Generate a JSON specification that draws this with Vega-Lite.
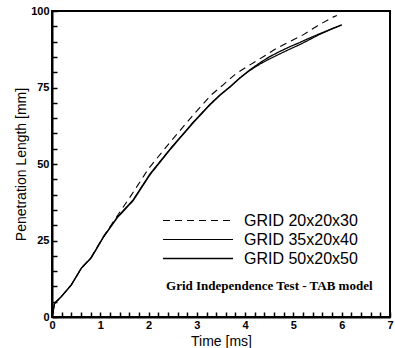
{
  "$schema": "https://vega.github.io/schema/vega-lite/v6.json",
  "autosize": "none",
  "width": 338,
  "height": 306,
  "padding": {"left": 52, "top": 11, "right": 5, "bottom": 31},
  "background": "white",
  "config": {
    "view": {"stroke": "black", "strokeWidth": 2},
    "font": "Liberation Sans"
  },
  "datasets": {
    "curves": [
      {"series": "GRID 20x20x30", "t": 0, "len": 0},
      {"series": "GRID 20x20x30", "t": 0.055, "len": 4.5},
      {"series": "GRID 20x20x30", "t": 0.19, "len": 6.6},
      {"series": "GRID 20x20x30", "t": 0.4, "len": 10.5},
      {"series": "GRID 20x20x30", "t": 0.61, "len": 16},
      {"series": "GRID 20x20x30", "t": 0.81, "len": 19.5},
      {"series": "GRID 20x20x30", "t": 1.06, "len": 26.2},
      {"series": "GRID 20x20x30", "t": 1.35, "len": 33},
      {"series": "GRID 20x20x30", "t": 1.65, "len": 40},
      {"series": "GRID 20x20x30", "t": 2.0, "len": 48.5},
      {"series": "GRID 20x20x30", "t": 2.44, "len": 57},
      {"series": "GRID 20x20x30", "t": 2.95, "len": 66.5},
      {"series": "GRID 20x20x30", "t": 3.3, "len": 72.6},
      {"series": "GRID 20x20x30", "t": 3.54, "len": 75.8},
      {"series": "GRID 20x20x30", "t": 3.8, "len": 79.4},
      {"series": "GRID 20x20x30", "t": 4.1, "len": 82.4},
      {"series": "GRID 20x20x30", "t": 4.4, "len": 85.3},
      {"series": "GRID 20x20x30", "t": 4.66, "len": 87.9},
      {"series": "GRID 20x20x30", "t": 4.95, "len": 90.2},
      {"series": "GRID 20x20x30", "t": 5.2, "len": 92.2},
      {"series": "GRID 20x20x30", "t": 5.5, "len": 95.2},
      {"series": "GRID 20x20x30", "t": 5.82, "len": 98},
      {"series": "GRID 20x20x30", "t": 5.9, "len": 98.5},
      {"series": "GRID 35x20x40", "t": 0, "len": 0},
      {"series": "GRID 35x20x40", "t": 0.055, "len": 4.5},
      {"series": "GRID 35x20x40", "t": 0.19, "len": 6.6},
      {"series": "GRID 35x20x40", "t": 0.4, "len": 10.5},
      {"series": "GRID 35x20x40", "t": 0.61, "len": 16},
      {"series": "GRID 35x20x40", "t": 0.81, "len": 19.3},
      {"series": "GRID 35x20x40", "t": 1.06, "len": 26},
      {"series": "GRID 35x20x40", "t": 1.35, "len": 32.6},
      {"series": "GRID 35x20x40", "t": 1.68, "len": 38.3},
      {"series": "GRID 35x20x40", "t": 2.03, "len": 46.8},
      {"series": "GRID 35x20x40", "t": 2.44, "len": 54.8},
      {"series": "GRID 35x20x40", "t": 2.92, "len": 63.6},
      {"series": "GRID 35x20x40", "t": 3.27, "len": 69.5},
      {"series": "GRID 35x20x40", "t": 3.48, "len": 72.6},
      {"series": "GRID 35x20x40", "t": 3.69, "len": 75.3},
      {"series": "GRID 35x20x40", "t": 3.89, "len": 78.1},
      {"series": "GRID 35x20x40", "t": 4.1, "len": 80.6},
      {"series": "GRID 35x20x40", "t": 4.31, "len": 82.7},
      {"series": "GRID 35x20x40", "t": 4.5, "len": 84.3},
      {"series": "GRID 35x20x40", "t": 4.72, "len": 86},
      {"series": "GRID 35x20x40", "t": 4.92, "len": 87.5},
      {"series": "GRID 35x20x40", "t": 5.13, "len": 89},
      {"series": "GRID 35x20x40", "t": 5.34, "len": 90.7},
      {"series": "GRID 35x20x40", "t": 5.55, "len": 92.4},
      {"series": "GRID 35x20x40", "t": 5.78, "len": 94},
      {"series": "GRID 35x20x40", "t": 6.0, "len": 95.4},
      {"series": "GRID 50x20x50", "t": 0, "len": 0},
      {"series": "GRID 50x20x50", "t": 0.055, "len": 4.5},
      {"series": "GRID 50x20x50", "t": 0.19, "len": 6.6},
      {"series": "GRID 50x20x50", "t": 0.4, "len": 10.5},
      {"series": "GRID 50x20x50", "t": 0.61, "len": 16},
      {"series": "GRID 50x20x50", "t": 0.81, "len": 19.3},
      {"series": "GRID 50x20x50", "t": 1.06, "len": 26},
      {"series": "GRID 50x20x50", "t": 1.35, "len": 32.4},
      {"series": "GRID 50x20x50", "t": 1.68, "len": 38},
      {"series": "GRID 50x20x50", "t": 2.03, "len": 46.5},
      {"series": "GRID 50x20x50", "t": 2.44, "len": 54.6},
      {"series": "GRID 50x20x50", "t": 2.92, "len": 63.4},
      {"series": "GRID 50x20x50", "t": 3.27, "len": 69.3},
      {"series": "GRID 50x20x50", "t": 3.48, "len": 72.5},
      {"series": "GRID 50x20x50", "t": 3.69, "len": 75.2},
      {"series": "GRID 50x20x50", "t": 3.89, "len": 78.1},
      {"series": "GRID 50x20x50", "t": 4.1, "len": 80.8},
      {"series": "GRID 50x20x50", "t": 4.31, "len": 83.1},
      {"series": "GRID 50x20x50", "t": 4.5, "len": 85},
      {"series": "GRID 50x20x50", "t": 4.72, "len": 86.8},
      {"series": "GRID 50x20x50", "t": 4.92, "len": 88.3},
      {"series": "GRID 50x20x50", "t": 5.13, "len": 89.7},
      {"series": "GRID 50x20x50", "t": 5.34, "len": 91.2},
      {"series": "GRID 50x20x50", "t": 5.55, "len": 92.6},
      {"series": "GRID 50x20x50", "t": 5.78, "len": 94.1},
      {"series": "GRID 50x20x50", "t": 6.0, "len": 95.5}
    ],
    "note": [
      {"t": 4.5, "len": 10, "label": "Grid Independence Test - TAB model"}
    ]
  },
  "encoding": {
    "x": {
      "field": "t", "type": "quantitative",
      "scale": {"domain": [0, 7], "nice": false},
      "axis": {
        "title": "Time [ms]",
        "tickCount": 35,
        "labelExpr": "abs(datum.value - round(datum.value)) < 0.01 ? format(datum.value, 'd') : ''",
        "labelOverlap": false,
        "tickSize": -5,
        "tickColor": "black", "tickWidth": 1.5,
        "domainColor": "black", "domainWidth": 2,
        "grid": false,
        "labelFont": "Liberation Sans", "labelFontSize": 11, "labelFontWeight": "bold", "labelColor": "black",
        "labelPadding": 7, "labelFlush": false,
        "titleFont": "Liberation Sans", "titleFontSize": 14, "titleFontWeight": "normal", "titleColor": "black",
        "titlePadding": 4
      }
    },
    "y": {
      "field": "len", "type": "quantitative",
      "scale": {"domain": [0, 100], "nice": false},
      "axis": {
        "title": "Penetration Length [mm]",
        "tickCount": 20,
        "labelExpr": "abs(datum.value / 25 - round(datum.value / 25)) < 0.01 ? format(datum.value, 'd') : ''",
        "labelOverlap": false,
        "tickSize": -5,
        "tickColor": "black", "tickWidth": 1.5,
        "domainColor": "black", "domainWidth": 2,
        "grid": false,
        "labelFont": "Liberation Sans", "labelFontSize": 11, "labelFontWeight": "bold", "labelColor": "black",
        "labelPadding": 8, "labelFlush": false,
        "titleFont": "Liberation Sans", "titleFontSize": 14, "titleFontWeight": "normal", "titleColor": "black",
        "titlePadding": 2
      }
    }
  },
  "layer": [
    {
      "data": {"name": "curves"},
      "mark": {"type": "line", "color": "black"},
      "encoding": {
        "strokeDash": {
          "field": "series", "type": "nominal",
          "scale": {"domain": ["GRID 20x20x30", "GRID 35x20x40", "GRID 50x20x50"], "range": [[7, 5], [1, 0], [1, 0]]},
          "legend": {
            "title": null, "orient": "none", "legendX": 110, "legendY": 200,
            "symbolType": "stroke", "symbolSize": 4900, "symbolStrokeColor": "black",
            "labelFont": "Liberation Sans", "labelFontSize": 16, "labelColor": "black",
            "labelOffset": 10, "rowPadding": 0, "clipHeight": 19
          }
        },
        "strokeWidth": {
          "field": "series", "type": "nominal",
          "scale": {"domain": ["GRID 20x20x30", "GRID 35x20x40", "GRID 50x20x50"], "range": [1.1, 1.3, 3]},
          "legend": {
            "title": null, "orient": "none", "legendX": 110, "legendY": 200,
            "symbolType": "stroke", "symbolSize": 4900, "symbolStrokeColor": "black",
            "labelFont": "Liberation Sans", "labelFontSize": 16, "labelColor": "black",
            "labelOffset": 10, "rowPadding": 0, "clipHeight": 19
          }
        }
      }
    },
    {
      "data": {"name": "note"},
      "mark": {"type": "text", "font": "Liberation Serif", "fontSize": 13, "fontWeight": "bold", "color": "black", "align": "center", "baseline": "middle"},
      "encoding": {
        "text": {"field": "label"}
      }
    }
  ]
}
